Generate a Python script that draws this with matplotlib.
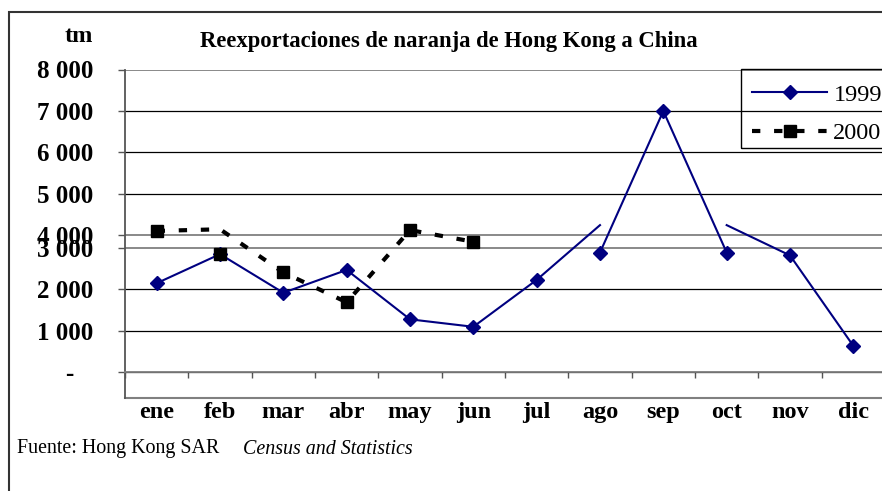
import numpy as np
import matplotlib.pyplot as plt
from matplotlib.lines import Line2D
from matplotlib.patches import Rectangle
from matplotlib.transforms import ScaledTranslation

months = ['ene', 'feb', 'mar', 'abr', 'may', 'jun', 'jul', 'ago', 'sep', 'oct', 'nov', 'dic']
v1999 = [2140, 2840, 1910, 2460, 1270, 1090, 2220, 2880, 7000, 2880, 2810, 630]
v2000 = [4110, 2840, 2400, 1680, 4130, 3480]
# the dashed 2000 line does not pass through every square in the original
line2000 = [4110, 4150, 2400, 1680, 4130, 3480]
# jul->ago and oct->nov segments end here instead of on the markers
jump1999 = 4250
yticks = [0, 1000, 2000, 3000, 4000, 5000, 6000, 7000, 8000]
ylabels = ['-', '1 000', '2 000', '3 000', '4 000', '5 000', '6 000', '7 000', '8 000']

NAVY = '#000080'
plt.rcParams['font.family'] = ['Liberation Serif', 'DejaVu Serif']


# the original axis is broken: 3000-4000 squeezed into a few pixels
def fwd(v):
    v = np.asarray(v, float)
    return np.where(v <= 3000, v, np.where(v >= 4000, v - 710, 3000 + (v - 3000) * 0.29))


def inv(d):
    d = np.asarray(d, float)
    return np.where(d <= 3000, d, np.where(d >= 3290, d + 710, 3000 + (d - 3000) / 0.29))


W, H = 882, 491
fig = plt.figure(figsize=(W / 100, H / 100), dpi=100)
ax = fig.add_axes([125 / W, 1 - 398 / H, 760 / W, (398 - 69.5) / H])
ax.set_yscale('function', functions=(fwd, inv))
ax.set_ylim(-626, 8000)
ax.set_xlim(-0.5, 11.5)

# spines first: set_position resets the ticks
ax.spines['top'].set_visible(False)
ax.spines['right'].set_visible(False)
ax.spines['bottom'].set_position(('data', 0))
ax.spines['bottom'].set_color('#808080')
ax.spines['bottom'].set_linewidth(1.3)
ax.spines['left'].set_color('#555555')
ax.spines['left'].set_linewidth(1.3)

x = np.arange(12)
# 1999
ax.plot(list(x[:7]) + [7], v1999[:7] + [jump1999], color=NAVY, lw=1.5, zorder=3)
ax.plot(x[7:10], v1999[7:10], color=NAVY, lw=1.5, zorder=3)
ax.plot([9, 10, 11], [jump1999] + v1999[10:], color=NAVY, lw=1.5, zorder=3)
ax.plot(x, v1999, ls='none', marker='D', ms=7.2, color=NAVY, zorder=4)
# 2000
ax.plot(x[:6], line2000, color='black', lw=3, dashes=(2, 3.3), zorder=5)
ax.plot(x[:6], v2000, ls='none', marker='s', ms=9, color='black', zorder=6)

ax.set_yticks(yticks, labels=ylabels)
ax.yaxis.set_minor_locator(plt.NullLocator())
ax.tick_params(axis='y', length=5, width=1, color='#555555', pad=18, labelsize=18)
ax.set_xticks(x, labels=months)
ax.set_xticks(np.arange(-0.5, 12, 1), minor=True)
ax.tick_params(axis='x', which='major', length=0, pad=21.5, labelsize=17.5)
ax.tick_params(axis='x', which='minor', length=4.5, width=1, color='#555555', direction='out')
for lab in ax.get_xticklabels() + ax.get_yticklabels():
    lab.set_fontweight('bold')

lab0 = ax.get_yticklabels()[0]
lab0.set_transform(lab0.get_transform() + ScaledTranslation(-0.2, 0, fig.dpi_scale_trans))

ax.grid(axis='y', color='black', lw=0.9)
for v, gl in zip(yticks, ax.yaxis.get_gridlines()):
    if v in (3000, 4000, 8000):
        gl.set_color('#808080')
        gl.set_linewidth(1.3)
ax.axhline(-626, color='#808080', lw=1.5, clip_on=False)

h1 = Line2D([], [], color=NAVY, lw=1.5, marker='D', ms=7.2)
h2 = Line2D([], [], color='black', lw=3, dashes=(2, 3.3), marker='s', ms=9)
fig.legend([h1, h2], ['1999', '2000'], loc='upper left',
           bbox_to_anchor=(741 / W, 1 - 73 / H), borderaxespad=0,
           fontsize=17.5, handlelength=3.1, handletextpad=0.25,
           labelspacing=0.66, borderpad=0.45, frameon=False, numpoints=1)
fig.patches.append(Rectangle((741 / W, 1 - 148 / H), 0.3, 79 / H, transform=fig.transFigure,
                             fill=False, ec='black', lw=1, zorder=0))

fig.text(79 / W, 1 - 36 / H, 'tm', fontsize=17.5, fontweight='bold', ha='center', va='center')
fig.text(448.5 / W, 1 - 42 / H, 'Reexportaciones de naranja de Hong Kong a China',
         fontsize=16.3, fontweight='bold', ha='center', va='center')
fig.text(17 / W, 1 - 449 / H, 'Fuente: Hong Kong SAR', fontsize=14.4, ha='left', va='center')
fig.text(243 / W, 1 - 449 / H, 'Census and Statistics', fontsize=14.4, style='italic',
         ha='left', va='center')

fig.patches.append(Rectangle((9 / W, -0.1), 2, 1.1 - 12 / H, transform=fig.transFigure,
                             fill=False, ec='#333333', lw=1.5))

fig.savefig('out.png', dpi=100)
